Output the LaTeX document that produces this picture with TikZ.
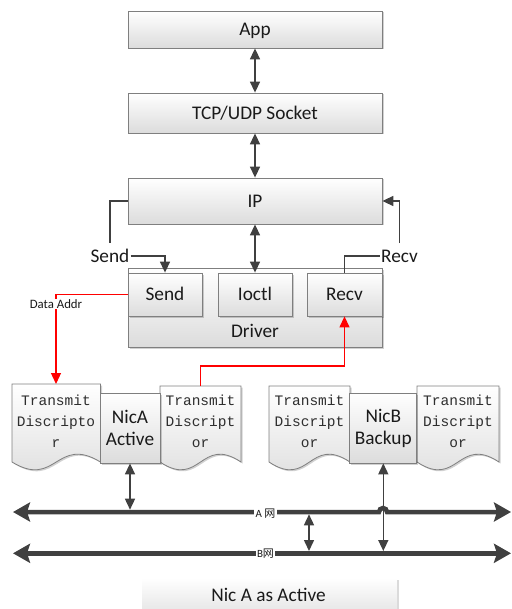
\documentclass[tikz,border=0pt]{standalone}
\usepackage{fontspec}
\setmainfont{Carlito}
\newfontfamily\docmono{Liberation Mono}
\newfontfamily\cjkfont{Noto Sans CJK SC}
\usetikzlibrary{arrows.meta,shadows,calc}

\definecolor{linegray}{HTML}{404040}
\definecolor{edgegray}{HTML}{7F7F7F}
\definecolor{fillbottom}{HTML}{DCDCDC}
\definecolor{textdark}{HTML}{1A1A1A}
\definecolor{wirered}{HTML}{FF0000}

\tikzset{
  >={Triangle[length=11pt,width=10pt]},
  panel/.style={draw=edgegray, line width=0.8pt, top color=white, bottom color=fillbottom,
    drop shadow={shadow xshift=1.5pt, shadow yshift=-1.5pt, fill=black, opacity=0.18},
    inner sep=0pt, text=textdark, font=\fontsize{19.3}{22}\selectfont},
  capline/.style={text height=12.4pt, text depth=0pt},
  sheet/.style={draw=edgegray, line width=0.8pt, top color=white, bottom color=fillbottom},
  sheettext/.style={font=\docmono\fontsize{14.5}{21}\selectfont, text=black!82, align=center, inner sep=0pt},
  wire/.style={draw=linegray, line width=1.5pt},
  redwire/.style={draw=wirered, line width=1.3pt},
  bus/.style={draw=linegray, line width=4.5pt,
    arrows={Stealth[length=17pt,width=19pt,inset=3pt]-Stealth[length=17pt,width=19pt,inset=3pt]}},
  tag/.style={font=\fontsize{19.3}{22}\selectfont, text=textdark, text height=12.4pt, text depth=0pt,
    inner xsep=1pt, inner ysep=6.6pt},
  addr/.style={font=\fontsize{12.8}{14}\selectfont, fill=white, inner sep=1pt, text=textdark},
  netlbl/.style={font=\fontsize{11}{13}\selectfont, fill=white, inner xsep=1.5pt, inner ysep=1pt, text=textdark},
}

% document sheet with wavy bottom edge: left x, right x, top y
\newcommand\docsheet[3]{%
  \begin{scope}[shift={(1.5,1.5)}]
    \fill[black!18] (#1,#3) -- (#2,#3) -- (#2,462)
      .. controls ({(#1+#2)/2},435) and ({(#1+#2)/2},489) .. (#1,462) -- cycle;
  \end{scope}
  \shade[sheet] (#1,#3) -- (#2,#3) -- (#2,462)
      .. controls ({(#1+#2)/2},435) and ({(#1+#2)/2},489) .. (#1,462) -- cycle;
}

\begin{document}
\begin{tikzpicture}[x=1pt,y=-1pt]
\useasboundingbox (0,0) rectangle (511,609);

% protocol stack
\node[panel, capline, minimum width=254pt, minimum height=37pt] (app) at (255,29.5) {App};
\node[panel, capline, minimum width=254pt, minimum height=40pt] (tcp) at (255,113) {TCP/UDP Socket};
\node[panel, capline, minimum width=254pt, minimum height=46pt] (ip) at (255,201) {IP};

% driver with its three parts
\node[panel, minimum width=254pt, minimum height=79pt] (driver) at (255,307.5) {};
\node[tag, inner sep=0pt] (driverlbl) at (255,331) {Driver};
\node[panel, capline, minimum width=74pt, minimum height=43pt] (send) at (165,294.5) {Send};
\node[panel, capline, minimum width=74pt, minimum height=43pt] (ioctl) at (255,294.5) {Ioctl};
\node[panel, capline, minimum width=75pt, minimum height=43pt] (recv) at (344.5,294.5) {Recv};

\draw[wire,<->] (app.south) -- (tcp.north);
\draw[wire,<->] (tcp.south) -- (ip.north);
\draw[wire,<->] (ip.south) -- (ioctl.north);

% send / receive paths between IP and driver
\node[tag] (sendlbl) at (110,256) {Send};
\node[tag] (recvlbl) at (399.5,256) {Recv};
\draw[wire] (ip.west) -| (sendlbl.north);
\draw[wire,->] (sendlbl.east) -| (send.north);
\draw[wire,->] (recvlbl.north) |- (ip.east);
\draw[wire] (recvlbl.west) -| (recv.north);

% descriptor sheets and the two NICs
\docsheet{12}{100.5}{384}
\docsheet{160}{241}{386}
\docsheet{269}{350}{386}
\docsheet{417}{499}{386}
\node[sheettext] (d1) at (56,421.7) {Transmit\\Discripto\\r};
\node[sheettext] (d2) at (200.5,421.7) {Transmit\\Discript\\or};
\node[sheettext] (d3) at (309.5,421.7) {Transmit\\Discript\\or};
\node[sheettext] (d4) at (458,421.7) {Transmit\\Discript\\or};
\coordinate (d1top) at (56,384);
\coordinate (d2top) at (200.5,386);

\node[panel, align=center, minimum width=60pt, minimum height=70pt] (nica) at (130,428) {NicA\\Active};
\node[panel, align=center, minimum width=67pt, minimum height=70pt] (nicb) at (383.3,428) {NicB\\Backup};

% data flow through the driver
\draw[redwire,->] (send.west) -| (d1top);
\node[addr] (addrlbl) at (56,304) {Data Addr};
\draw[redwire,->] (d2top) -- ++(0,-20) -| (recv.south);

% networks
\coordinate (aW) at (13,512);
\coordinate (aE) at (511,512);
\coordinate (bW) at (13,553.3);
\coordinate (bE) at (511,553.3);
\coordinate (atop) at (0,509.7);
\coordinate (btop) at (0,551);
\coordinate (linkA) at (309,514.3);
\coordinate (linkB) at (309,551);

\draw[wire,<->] (nicb.south) -- (nicb.south |- btop);
\draw[bus] (aW) -- (379,512) arc (180:360:4) -- (aE);
\draw[bus] (bW) -- (bE);
\draw[wire,<->] (nica.south) -- (nica.south |- atop);
\draw[wire,<->] (linkA) -- (linkB);
\node[netlbl] (alabel) at (265.5,513.5) {A {\cjkfont 网}};
\node[netlbl] (blabel) at (265.5,553.8) {B{\cjkfont 网}};

% caption
\shade[top color=white, bottom color=black!9] (142,578) rectangle (397,609);
\fill[black!14] (397,580) rectangle (399,609);
\node[capline, font=\fontsize{19.3}{22}\selectfont, text=textdark, inner sep=0pt] (caption) at (268.5,595.3) {Nic A as Active};
\end{tikzpicture}
\end{document}
